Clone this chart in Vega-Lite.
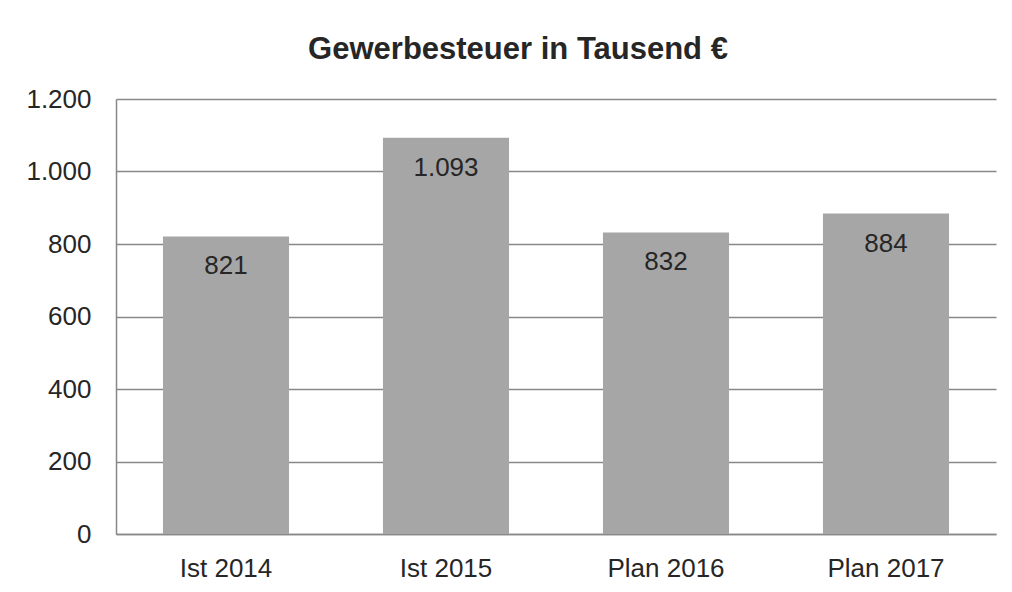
{
  "$schema": "https://vega.github.io/schema/vega-lite/v6.json",
  "width": 880,
  "height": 435,
  "autosize": {"type": "none"},
  "padding": {"left": 116, "top": 99, "right": 16, "bottom": 58},
  "background": "white",
  "title": {
    "text": "Gewerbesteuer in Tausend €",
    "fontSize": 31,
    "fontWeight": "bold",
    "font": "Liberation Sans",
    "color": "#262626",
    "anchor": "middle",
    "frame": "group",
    "dx": -38,
    "dy": 44,
    "offset": 40,
    "baseline": "alphabetic"
  },
  "config": {
    "view": {"stroke": null},
    "font": "Liberation Sans",
    "locale": {
      "number": {"decimal": ",", "thousands": ".", "grouping": [3], "currency": ["", " €"]}
    }
  },
  "data": {
    "values": [
      {"period": "Ist 2014", "value": 821},
      {"period": "Ist 2015", "value": 1093},
      {"period": "Plan 2016", "value": 832},
      {"period": "Plan 2017", "value": 884}
    ]
  },
  "encoding": {
    "x": {
      "field": "period",
      "type": "nominal",
      "sort": null,
      "scale": {"paddingInner": 0.427, "paddingOuter": 0.2135},
      "axis": {
        "title": null,
        "labelAngle": 0,
        "labelFontSize": 26,
        "labelColor": "#262626",
        "labelFont": "Liberation Sans",
        "labelPadding": 21,
        "ticks": false,
        "domainColor": "#888888",
        "domainWidth": 1.5,
        "grid": false
      }
    },
    "y": {
      "field": "value",
      "type": "quantitative",
      "scale": {"domain": [0, 1200], "nice": false},
      "axis": {
        "title": null,
        "values": [0, 200, 400, 600, 800, 1000, 1200],
        "format": ",.0f",
        "labelFontSize": 26,
        "labelColor": "#262626",
        "labelFont": "Liberation Sans",
        "labelPadding": 25,
        "ticks": false,
        "domainColor": "#888888",
        "domainWidth": 1.5,
        "gridColor": "#888888",
        "gridWidth": 1.5
      }
    }
  },
  "layer": [
    {"mark": {"type": "bar", "color": "#a6a6a6"}},
    {
      "mark": {
        "type": "text",
        "baseline": "alphabetic",
        "align": "center",
        "dy": 38,
        "fontSize": 26,
        "font": "Liberation Sans",
        "color": "#262626"
      },
      "encoding": {
        "text": {"field": "value", "type": "quantitative", "format": ",.0f"}
      }
    }
  ]
}
